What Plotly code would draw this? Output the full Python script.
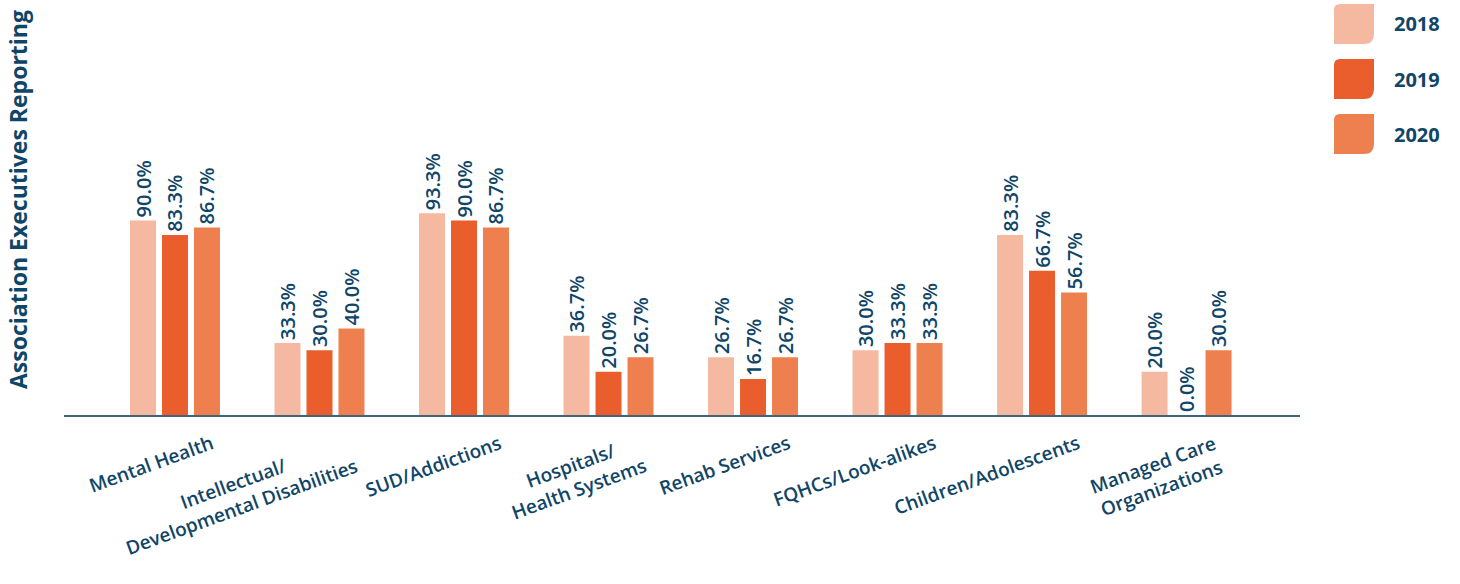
import plotly.graph_objects as go

# ---- data -------------------------------------------------------------
categories = [
    "Mental Health",
    "Intellectual/<br>Developmental Disabilities",
    "SUD/Addictions",
    "Hospitals/<br>Health Systems",
    "Rehab Services",
    "FQHCs/Look-alikes",
    "Children/Adolescents",
    "Managed Care<br>Organizations",
]
years = ["2018", "2019", "2020"]
values_2018 = [90.0, 33.3, 93.3, 36.7, 26.7, 30.0, 83.3, 20.0]
values_2019 = [83.3, 30.0, 90.0, 20.0, 16.7, 33.3, 66.7, 0.0]
values_2020 = [86.7, 40.0, 86.7, 26.7, 26.7, 33.3, 56.7, 30.0]
series = [values_2018, values_2019, values_2020]
y_title = "Association Executives Reporting"

# ---- style ------------------------------------------------------------
colors = ["#f5b8a0", "#e95e2c", "#ee804f"]
navy = "#0f4567"
axis_color = "#3f657c"
font_family = "Open Sans"

W, H = 1460, 584
L, R, T, B = 64, 160, 10, 169
PW, PH = W - L - R, H - T - B


def px(x):
    return (x - L) / PW


def py(y):
    return (T + PH - y) / PH


fig = go.Figure()
x_idx = list(range(len(categories)))
for year, vals, col in zip(years, series, colors):
    fig.add_trace(
        go.Bar(
            x=x_idx,
            y=vals,
            name=year,
            marker=dict(color=col, line=dict(width=0)),
            # trailing no-break space keeps the rotated label clear of the bar top
            text=[f"{v:.1f}%\u00a0" for v in vals],
            textposition="outside",
            textangle=-90,
            textfont=dict(family=font_family, size=20, color=navy, weight=600),
            cliponaxis=False,
            constraintext="none",
            showlegend=False,
        )
    )

annotations = []
# category labels, tilted, lines centered on each other
for i, cat in enumerate(categories):
    annotations.append(
        dict(
            x=i, y=0, xref="x", yref="y",
            text=cat, showarrow=False, textangle=-20,
            xanchor="right", yanchor="top", align="center",
            xshift=44, yshift=-12,
            font=dict(family=font_family, size=19, color=navy, weight=600),
        )
    )

# vertical axis title
annotations.append(
    dict(
        x=px(18), y=py(200), xref="paper", yref="paper",
        text=y_title, showarrow=False, textangle=-90,
        xanchor="center", yanchor="middle",
        font=dict(family=font_family, size=23, color=navy, weight=700),
    )
)

# legend: leaf-shaped swatches with year labels
shapes = []
sw_x0, sw_x1 = 1334, 1374
sw_top = [4, 59, 114]
sw_h = 40
r1, r2 = 6, 10
for year, col, top in zip(years, colors, sw_top):
    x0, x1, y0, y1 = sw_x0, sw_x1, top, top + sw_h
    path = (
        f"M {px(x0)},{py(y0 + r1)} "
        f"Q {px(x0)},{py(y0)} {px(x0 + r1)},{py(y0)} "
        f"L {px(x1)},{py(y0)} "
        f"L {px(x1)},{py(y1 - r2)} "
        f"Q {px(x1)},{py(y1)} {px(x1 - r2)},{py(y1)} "
        f"L {px(x0)},{py(y1)} Z"
    )
    shapes.append(
        dict(type="path", path=path, xref="paper", yref="paper",
             fillcolor=col, line=dict(width=0))
    )
    annotations.append(
        dict(
            x=px(1392), y=py(top + sw_h / 2), xref="paper", yref="paper",
            text=year, showarrow=False, xanchor="left", yanchor="middle",
            font=dict(family=font_family, size=20, color=navy, weight=700),
        )
    )

fig.update_layout(
    width=W, height=H,
    margin=dict(l=L, r=R, t=T, b=B),
    paper_bgcolor="white", plot_bgcolor="white",
    barmode="group", bargap=0.336, bargroupgap=0.1875,
    showlegend=False,
    annotations=annotations,
    shapes=shapes,
    xaxis=dict(
        range=[-0.768, 7.785], showticklabels=False, ticks="",
        showgrid=False, zeroline=False,
        showline=True, linecolor=axis_color, linewidth=2,
    ),
    yaxis=dict(
        range=[0, 187.3], visible=False, showgrid=False, zeroline=False,
    ),
)

fig.write_html("out.html")
